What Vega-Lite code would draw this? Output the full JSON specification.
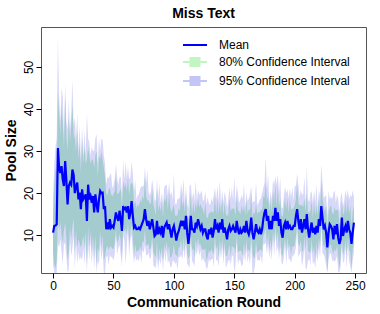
{
  "$schema": "https://vega.github.io/schema/vega-lite/v6.json",
  "width": 325,
  "height": 246,
  "autosize": "none",
  "padding": {"left": 41, "top": 27, "right": 14, "bottom": 41},
  "title": {"text": "Miss Text", "font": "Liberation Sans", "fontSize": 14, "fontWeight": "bold", "color": "black", "offset": 6},
  "config": {
    "font": "Liberation Sans",
    "view": {"stroke": "#555555", "strokeWidth": 1},
    "axis": {"grid": false, "domain": false, "tickColor": "black", "tickSize": 5, "labelColor": "black", "labelFontSize": 12, "labelFont": "Liberation Sans", "titleFont": "Liberation Sans", "titleFontSize": 14, "titleFontWeight": "bold", "titleColor": "black"}
  },
  "data": {"values": [
    {"round":0,"mean":10.6,"lo95":3,"lo80":6,"hi80":15,"hi95":19},
    {"round":1,"mean":12.2,"lo95":1,"lo80":3,"hi80":22,"hi95":27},
    {"round":2,"mean":12.3,"lo95":1,"lo80":2,"hi80":26,"hi95":31},
    {"round":3,"mean":12.6,"lo95":1,"lo80":4,"hi80":24,"hi95":33},
    {"round":4,"mean":30.7,"lo95":8,"lo80":14,"hi80":44,"hi95":57},
    {"round":5,"mean":26,"lo95":7,"lo80":11,"hi80":39,"hi95":43},
    {"round":6,"mean":24.8,"lo95":9,"lo80":13,"hi80":34,"hi95":37},
    {"round":7,"mean":26.4,"lo95":6,"lo80":10,"hi80":41,"hi95":45},
    {"round":8,"mean":23.2,"lo95":3,"lo80":8,"hi80":37,"hi95":43},
    {"round":9,"mean":21.7,"lo95":8,"lo80":11,"hi80":31,"hi95":34},
    {"round":10,"mean":27.6,"lo95":8,"lo80":13,"hi80":43,"hi95":46},
    {"round":11,"mean":23,"lo95":5,"lo80":9,"hi80":34,"hi95":37},
    {"round":12,"mean":17.3,"lo95":1,"lo80":4,"hi80":30,"hi95":35},
    {"round":13,"mean":21.7,"lo95":2,"lo80":6,"hi80":38,"hi95":42},
    {"round":14,"mean":22.5,"lo95":9,"lo80":12,"hi80":32,"hi95":35},
    {"round":15,"mean":22,"lo95":5,"lo80":9,"hi80":36,"hi95":39},
    {"round":16,"mean":25.6,"lo95":7,"lo80":12,"hi80":41,"hi95":47},
    {"round":17,"mean":24.4,"lo95":10,"lo80":14,"hi80":34,"hi95":36},
    {"round":18,"mean":20,"lo95":2,"lo80":6,"hi80":33,"hi95":38},
    {"round":19,"mean":21.6,"lo95":8,"lo80":11,"hi80":30,"hi95":33},
    {"round":20,"mean":22.5,"lo95":3,"lo80":7,"hi80":35,"hi95":39},
    {"round":21,"mean":18.5,"lo95":6,"lo80":9,"hi80":28,"hi95":30},
    {"round":22,"mean":20.1,"lo95":4,"lo80":8,"hi80":32,"hi95":36},
    {"round":23,"mean":16.2,"lo95":5,"lo80":7,"hi80":25,"hi95":28},
    {"round":24,"mean":20.9,"lo95":4,"lo80":8,"hi80":33,"hi95":36},
    {"round":25,"mean":18.5,"lo95":7,"lo80":10,"hi80":27,"hi95":29},
    {"round":26,"mean":19,"lo95":3,"lo80":7,"hi80":31,"hi95":35},
    {"round":27,"mean":19.7,"lo95":8,"lo80":11,"hi80":27,"hi95":29},
    {"round":28,"mean":13.4,"lo95":1,"lo80":3,"hi80":28,"hi95":39},
    {"round":29,"mean":22,"lo95":8,"lo80":12,"hi80":31,"hi95":33},
    {"round":30,"mean":18.5,"lo95":4,"lo80":7,"hi80":29,"hi95":32},
    {"round":31,"mean":19.3,"lo95":9,"lo80":11,"hi80":27,"hi95":29},
    {"round":32,"mean":17.7,"lo95":3,"lo80":6,"hi80":28,"hi95":31},
    {"round":33,"mean":19.3,"lo95":7,"lo80":10,"hi80":28,"hi95":30},
    {"round":34,"mean":15.4,"lo95":2,"lo80":5,"hi80":26,"hi95":30},
    {"round":35,"mean":19.7,"lo95":7,"lo80":10,"hi80":29,"hi95":33},
    {"round":36,"mean":17.3,"lo95":1,"lo80":3,"hi80":30,"hi95":34},
    {"round":37,"mean":15.4,"lo95":4,"lo80":7,"hi80":24,"hi95":27},
    {"round":38,"mean":18.5,"lo95":3,"lo80":6,"hi80":29,"hi95":33},
    {"round":39,"mean":20.5,"lo95":8,"lo80":11,"hi80":28,"hi95":30},
    {"round":40,"mean":20,"lo95":4,"lo80":7,"hi80":30,"hi95":33},
    {"round":41,"mean":20.1,"lo95":7,"lo80":10,"hi80":28,"hi95":32.6},
    {"round":42,"mean":16.2,"lo95":1,"lo80":4,"hi80":26,"hi95":29},
    {"round":43,"mean":16.9,"lo95":1,"lo80":5,"hi80":24,"hi95":27},
    {"round":44,"mean":11.4,"lo95":4.9,"lo80":6.9,"hi80":19.9,"hi95":22},
    {"round":45,"mean":13,"lo95":5,"lo80":7.5,"hi80":19.5,"hi95":24},
    {"round":46,"mean":11.4,"lo95":2.9,"lo80":6.4,"hi80":20.9,"hi95":23.4},
    {"round":47,"mean":13.8,"lo95":5.3,"lo80":7.3,"hi80":21.3,"hi95":24.3},
    {"round":48,"mean":11.8,"lo95":4.8,"lo80":7.3,"hi80":19.8,"hi95":24.8},
    {"round":49,"mean":12.2,"lo95":4.7,"lo80":6.7,"hi80":19.2,"hi95":21.2},
    {"round":50,"mean":11.8,"lo95":4,"lo80":6.8,"hi80":19.8,"hi95":21.8},
    {"round":51,"mean":13.4,"lo95":5.4,"lo80":7.9,"hi80":20.4,"hi95":23.4},
    {"round":52,"mean":15.4,"lo95":9.9,"lo80":11.4,"hi80":24.4,"hi95":26.9},
    {"round":53,"mean":14.2,"lo95":5.2,"lo80":8.2,"hi80":19.7,"hi95":23.7},
    {"round":54,"mean":13.4,"lo95":6.9,"lo80":8.9,"hi80":19.9,"hi95":21.9},
    {"round":55,"mean":15.8,"lo95":7.8,"lo80":10.3,"hi80":20.3,"hi95":23.8},
    {"round":56,"mean":13.8,"lo95":5.3,"lo80":8.8,"hi80":21.3,"hi95":23.8},
    {"round":57,"mean":11,"lo95":2.5,"lo80":4.5,"hi80":16.5,"hi95":19.5},
    {"round":58,"mean":16.9,"lo95":9.9,"lo80":12.4,"hi80":22.9,"hi95":27.9},
    {"round":59,"mean":16.2,"lo95":8.7,"lo80":10.7,"hi80":21.2,"hi95":23.2},
    {"round":60,"mean":16.5,"lo95":3,"lo80":11.5,"hi80":22.5,"hi95":27.6},
    {"round":61,"mean":15.4,"lo95":7.4,"lo80":9.9,"hi80":20.4,"hi95":23.4},
    {"round":62,"mean":16.9,"lo95":11.4,"lo80":12.9,"hi80":23.9,"hi95":26.4},
    {"round":63,"mean":13.8,"lo95":4.8,"lo80":7.8,"hi80":19.3,"hi95":23.3},
    {"round":64,"mean":15.4,"lo95":8.9,"lo80":10.9,"hi80":21.9,"hi95":23.9},
    {"round":65,"mean":18.1,"lo95":10.1,"lo80":12.6,"hi80":22.6,"hi95":27.6},
    {"round":66,"mean":14.6,"lo95":6.1,"lo80":9.6,"hi80":22.1,"hi95":24.6},
    {"round":67,"mean":11.8,"lo95":3.3,"lo80":5.3,"hi80":17.3,"hi95":20.3},
    {"round":68,"mean":12.2,"lo95":5.2,"lo80":7.7,"hi80":18.2,"hi95":23.2},
    {"round":69,"mean":11.4,"lo95":3.9,"lo80":5.9,"hi80":16.4,"hi95":18.4},
    {"round":70,"mean":11.4,"lo95":4.4,"lo80":6.4,"hi80":17.4,"hi95":19.4},
    {"round":71,"mean":11.8,"lo95":3.8,"lo80":6.3,"hi80":16.8,"hi95":19.8},
    {"round":72,"mean":11.4,"lo95":5.9,"lo80":7.4,"hi80":18.4,"hi95":20.9},
    {"round":73,"mean":12.2,"lo95":3.2,"lo80":6.2,"hi80":17.7,"hi95":21.7},
    {"round":74,"mean":13,"lo95":6.5,"lo80":8.5,"hi80":19.5,"hi95":21.5},
    {"round":75,"mean":13.8,"lo95":5.8,"lo80":8.3,"hi80":18.3,"hi95":21.8},
    {"round":76,"mean":16.2,"lo95":7.7,"lo80":11.2,"hi80":23.7,"hi95":26.2},
    {"round":77,"mean":13.8,"lo95":5.3,"lo80":7.3,"hi80":19.3,"hi95":22.3},
    {"round":78,"mean":12.2,"lo95":5.2,"lo80":7.7,"hi80":18.2,"hi95":25.6},
    {"round":79,"mean":13.4,"lo95":5.9,"lo80":7.9,"hi80":18.4,"hi95":20.4},
    {"round":80,"mean":11.4,"lo95":4.4,"lo80":6.4,"hi80":17.4,"hi95":19.4},
    {"round":81,"mean":12.6,"lo95":4.6,"lo80":7.1,"hi80":17.6,"hi95":20.6},
    {"round":82,"mean":13.8,"lo95":8.3,"lo80":9.8,"hi80":20.8,"hi95":23.3},
    {"round":83,"mean":11.8,"lo95":2.8,"lo80":5.8,"hi80":17.3,"hi95":21.3},
    {"round":84,"mean":9.8,"lo95":2.5,"lo80":5.3,"hi80":16.3,"hi95":18.3},
    {"round":85,"mean":10.2,"lo95":2.2,"lo80":4.7,"hi80":14.7,"hi95":18.2},
    {"round":86,"mean":13.4,"lo95":4.9,"lo80":8.4,"hi80":20.9,"hi95":23.4},
    {"round":87,"mean":10.2,"lo95":1.7,"lo80":3.7,"hi80":15.7,"hi95":18.7},
    {"round":88,"mean":11.4,"lo95":4.4,"lo80":6.9,"hi80":17.4,"hi95":22.4},
    {"round":89,"mean":10.6,"lo95":3.1,"lo80":5.1,"hi80":15.6,"hi95":17.6},
    {"round":90,"mean":12.2,"lo95":5.2,"lo80":7.2,"hi80":18.2,"hi95":20.2},
    {"round":91,"mean":9.4,"lo95":1.4,"lo80":3.9,"hi80":14.4,"hi95":17.4},
    {"round":92,"mean":11.8,"lo95":6.3,"lo80":7.8,"hi80":18.8,"hi95":21.3},
    {"round":93,"mean":12.4,"lo95":3.4,"lo80":6.4,"hi80":17.9,"hi95":21.9},
    {"round":94,"mean":13,"lo95":6.5,"lo80":8.5,"hi80":19.5,"hi95":22},
    {"round":95,"mean":11.4,"lo95":3.4,"lo80":5.9,"hi80":15.9,"hi95":19.4},
    {"round":96,"mean":12.6,"lo95":4.1,"lo80":7.6,"hi80":20.1,"hi95":22.6},
    {"round":97,"mean":11,"lo95":2.5,"lo80":4.5,"hi80":16.5,"hi95":19.5},
    {"round":98,"mean":9.4,"lo95":2.4,"lo80":4.9,"hi80":15.4,"hi95":20.4},
    {"round":99,"mean":11.4,"lo95":3.9,"lo80":5.9,"hi80":16.4,"hi95":18.4},
    {"round":100,"mean":12.2,"lo95":4,"lo80":7.7,"hi80":17.2,"hi95":24.8},
    {"round":101,"mean":10.6,"lo95":3.1,"lo80":5.6,"hi80":14.6,"hi95":17.6},
    {"round":102,"mean":8.7,"lo95":3.7,"lo80":5.2,"hi80":14.7,"hi95":17.2},
    {"round":103,"mean":10.2,"lo95":1.7,"lo80":4.7,"hi80":14.7,"hi95":18.7},
    {"round":104,"mean":11,"lo95":5,"lo80":7,"hi80":16.5,"hi95":18.5},
    {"round":105,"mean":12.2,"lo95":4.7,"lo80":7.2,"hi80":15.7,"hi95":19.2},
    {"round":106,"mean":13.4,"lo95":5.4,"lo80":8.9,"hi80":19.9,"hi95":22.4},
    {"round":107,"mean":12.2,"lo95":4.2,"lo80":6.2,"hi80":16.7,"hi95":19.7},
    {"round":108,"mean":13.4,"lo95":6.9,"lo80":9.4,"hi80":18.4,"hi95":23.4},
    {"round":109,"mean":11.4,"lo95":4.4,"lo80":6.4,"hi80":15.4,"hi95":17.4},
    {"round":110,"mean":14.6,"lo95":8.1,"lo80":10.1,"hi80":19.6,"hi95":21.6},
    {"round":111,"mean":10.6,"lo95":3.1,"lo80":5.6,"hi80":14.6,"hi95":17.6},
    {"round":112,"mean":7.9,"lo95":2.9,"lo80":4.4,"hi80":13.9,"hi95":16.4},
    {"round":113,"mean":10.6,"lo95":2.1,"lo80":5.1,"hi80":15.1,"hi95":21.7},
    {"round":114,"mean":14.6,"lo95":8.6,"lo80":10.6,"hi80":20.1,"hi95":22.1},
    {"round":115,"mean":11.4,"lo95":3.9,"lo80":6.4,"hi80":14.9,"hi95":18.4},
    {"round":116,"mean":11.4,"lo95":3.4,"lo80":6.9,"hi80":17.9,"hi95":20.4},
    {"round":117,"mean":10.6,"lo95":2.6,"lo80":4.6,"hi80":15.1,"hi95":18.1},
    {"round":118,"mean":13,"lo95":6.5,"lo80":9,"hi80":18,"hi95":23},
    {"round":119,"mean":12.2,"lo95":5.2,"lo80":7.2,"hi80":16.2,"hi95":18.2},
    {"round":120,"mean":13.8,"lo95":7.3,"lo80":9.3,"hi80":18.8,"hi95":20.8},
    {"round":121,"mean":12.6,"lo95":5.1,"lo80":7.6,"hi80":16.6,"hi95":19.6},
    {"round":122,"mean":11.4,"lo95":6.4,"lo80":7.9,"hi80":17.4,"hi95":19.9},
    {"round":123,"mean":12.2,"lo95":3.7,"lo80":6.7,"hi80":16.7,"hi95":20.7},
    {"round":124,"mean":10.6,"lo95":4.6,"lo80":6.6,"hi80":16.1,"hi95":18.1},
    {"round":125,"mean":11.4,"lo95":3.9,"lo80":6.4,"hi80":14.9,"hi95":18.4},
    {"round":126,"mean":11.4,"lo95":3.4,"lo80":6.9,"hi80":17.9,"hi95":20.4},
    {"round":127,"mean":9.8,"lo95":1.8,"lo80":3.8,"hi80":14.3,"hi95":17.3},
    {"round":128,"mean":9,"lo95":2.5,"lo80":5,"hi80":14,"hi95":19},
    {"round":129,"mean":11.4,"lo95":4.4,"lo80":6.4,"hi80":15.4,"hi95":17.4},
    {"round":130,"mean":10.2,"lo95":3.7,"lo80":5.7,"hi80":15.2,"hi95":17.2},
    {"round":131,"mean":11.8,"lo95":4.3,"lo80":6.8,"hi80":15.8,"hi95":18.8},
    {"round":132,"mean":9.4,"lo95":4.4,"lo80":5.9,"hi80":15.4,"hi95":17.9},
    {"round":133,"mean":11,"lo95":2.5,"lo80":5.5,"hi80":15.5,"hi95":19.5},
    {"round":134,"mean":13.8,"lo95":7.8,"lo80":9.8,"hi80":19.3,"hi95":21.3},
    {"round":135,"mean":11.4,"lo95":3.9,"lo80":6.4,"hi80":14.9,"hi95":18.4},
    {"round":136,"mean":12.2,"lo95":4.2,"lo80":7.7,"hi80":18.7,"hi95":21.7},
    {"round":137,"mean":10.6,"lo95":2.6,"lo80":4.6,"hi80":15.1,"hi95":18.1},
    {"round":138,"mean":13,"lo95":6.5,"lo80":9,"hi80":18,"hi95":23},
    {"round":139,"mean":11.4,"lo95":4.4,"lo80":6.4,"hi80":15.4,"hi95":17.4},
    {"round":140,"mean":13.8,"lo95":7.3,"lo80":9.3,"hi80":18.8,"hi95":20.8},
    {"round":141,"mean":10.6,"lo95":3.1,"lo80":5.6,"hi80":14.6,"hi95":17.6},
    {"round":142,"mean":11.8,"lo95":6.8,"lo80":8.3,"hi80":17.8,"hi95":20.3},
    {"round":143,"mean":10.6,"lo95":2.1,"lo80":5.1,"hi80":15.1,"hi95":19.1},
    {"round":144,"mean":9,"lo95":3,"lo80":5,"hi80":14.5,"hi95":16.5},
    {"round":145,"mean":11.4,"lo95":3.9,"lo80":6.4,"hi80":14.9,"hi95":18.4},
    {"round":146,"mean":12.2,"lo95":4.2,"lo80":7.7,"hi80":18.7,"hi95":21.2},
    {"round":147,"mean":11,"lo95":3,"lo80":5,"hi80":15.5,"hi95":18.5},
    {"round":148,"mean":11.4,"lo95":4.9,"lo80":7.4,"hi80":16.4,"hi95":21.4},
    {"round":149,"mean":12.2,"lo95":5.2,"lo80":7.2,"hi80":16.2,"hi95":18.2},
    {"round":150,"mean":11.4,"lo95":1,"lo80":6.9,"hi80":16.4,"hi95":24},
    {"round":151,"mean":10.6,"lo95":3.1,"lo80":5.6,"hi80":14.6,"hi95":17.6},
    {"round":152,"mean":13.4,"lo95":8.4,"lo80":9.9,"hi80":19.4,"hi95":21.9},
    {"round":153,"mean":11.4,"lo95":2.9,"lo80":5.9,"hi80":15.9,"hi95":19.9},
    {"round":154,"mean":10.2,"lo95":4.2,"lo80":6.2,"hi80":15.7,"hi95":17.7},
    {"round":155,"mean":11.4,"lo95":3.9,"lo80":6.4,"hi80":14.9,"hi95":18.4},
    {"round":156,"mean":10.6,"lo95":2.6,"lo80":6.1,"hi80":17.1,"hi95":19.6},
    {"round":157,"mean":11,"lo95":3,"lo80":5,"hi80":15.5,"hi95":18.5},
    {"round":158,"mean":12.2,"lo95":5.7,"lo80":8.2,"hi80":17.2,"hi95":22.2},
    {"round":159,"mean":10.6,"lo95":3.6,"lo80":5.6,"hi80":14.6,"hi95":16.6},
    {"round":160,"mean":13.4,"lo95":6.9,"lo80":8.9,"hi80":18.4,"hi95":20.4},
    {"round":161,"mean":11,"lo95":3.5,"lo80":6,"hi80":15,"hi95":18},
    {"round":162,"mean":10.2,"lo95":5.2,"lo80":6.7,"hi80":16.2,"hi95":18.7},
    {"round":163,"mean":11.4,"lo95":2.9,"lo80":5.9,"hi80":15.9,"hi95":19.9},
    {"round":164,"mean":14.2,"lo95":8.2,"lo80":10.2,"hi80":19.7,"hi95":21.7},
    {"round":165,"mean":10.6,"lo95":1,"lo80":5.6,"hi80":14.1,"hi95":17.6},
    {"round":166,"mean":9,"lo95":1,"lo80":4.5,"hi80":15.5,"hi95":18},
    {"round":167,"mean":10.6,"lo95":2.6,"lo80":4.6,"hi80":15.1,"hi95":18.1},
    {"round":168,"mean":12.6,"lo95":6.1,"lo80":8.6,"hi80":17.6,"hi95":22.6},
    {"round":169,"mean":11,"lo95":4,"lo80":6,"hi80":15,"hi95":17},
    {"round":170,"mean":10.6,"lo95":4.1,"lo80":6.1,"hi80":15.6,"hi95":17.6},
    {"round":171,"mean":11.4,"lo95":3.9,"lo80":6.4,"hi80":15.4,"hi95":18.4},
    {"round":172,"mean":10.2,"lo95":5.2,"lo80":6.7,"hi80":16.2,"hi95":18.7},
    {"round":173,"mean":11.4,"lo95":2.9,"lo80":5.9,"hi80":15.9,"hi95":19.9},
    {"round":174,"mean":13.8,"lo95":7.8,"lo80":9.8,"hi80":19.3,"hi95":21.3},
    {"round":175,"mean":15.4,"lo95":7.9,"lo80":10.4,"hi80":18.9,"hi95":22.4},
    {"round":176,"mean":16.2,"lo95":8.2,"lo80":11.7,"hi80":22.7,"hi95":28.5},
    {"round":177,"mean":13.4,"lo95":5.4,"lo80":7.4,"hi80":17.9,"hi95":20.9},
    {"round":178,"mean":14.6,"lo95":8.1,"lo80":10.6,"hi80":19.6,"hi95":24.6},
    {"round":179,"mean":11.4,"lo95":4.4,"lo80":6.4,"hi80":15.4,"hi95":17.4},
    {"round":180,"mean":13.4,"lo95":6.9,"lo80":8.9,"hi80":18.4,"hi95":20.4},
    {"round":181,"mean":11.4,"lo95":3.9,"lo80":6.4,"hi80":15.4,"hi95":18.4},
    {"round":182,"mean":14.6,"lo95":9.6,"lo80":11.1,"hi80":20.6,"hi95":23.1},
    {"round":183,"mean":13.4,"lo95":4.9,"lo80":7.9,"hi80":17.9,"hi95":21.9},
    {"round":184,"mean":16.5,"lo95":10.5,"lo80":12.5,"hi80":22,"hi95":24},
    {"round":185,"mean":13.4,"lo95":5.9,"lo80":8.4,"hi80":16.9,"hi95":22},
    {"round":186,"mean":15.4,"lo95":7.4,"lo80":10.9,"hi80":21.9,"hi95":24.4},
    {"round":187,"mean":12.2,"lo95":4.2,"lo80":6.2,"hi80":16.7,"hi95":19.7},
    {"round":188,"mean":13.8,"lo95":7.3,"lo80":9.8,"hi80":18.8,"hi95":23.8},
    {"round":189,"mean":10.6,"lo95":3.6,"lo80":5.6,"hi80":14.6,"hi95":16.6},
    {"round":190,"mean":9.4,"lo95":2.9,"lo80":4.9,"hi80":14.4,"hi95":16.4},
    {"round":191,"mean":12.2,"lo95":4.7,"lo80":7.2,"hi80":16.2,"hi95":19.2},
    {"round":192,"mean":13,"lo95":8,"lo80":9.5,"hi80":19,"hi95":21.5},
    {"round":193,"mean":11.4,"lo95":2.9,"lo80":5.9,"hi80":15.9,"hi95":19.9},
    {"round":194,"mean":13.4,"lo95":7.4,"lo80":9.4,"hi80":18.9,"hi95":20.9},
    {"round":195,"mean":11.8,"lo95":4.3,"lo80":6.8,"hi80":15.3,"hi95":18.8},
    {"round":196,"mean":12.2,"lo95":4.2,"lo80":7.7,"hi80":18.7,"hi95":21.2},
    {"round":197,"mean":11.4,"lo95":3.4,"lo80":5.4,"hi80":15.9,"hi95":18.9},
    {"round":198,"mean":11.4,"lo95":4.9,"lo80":7.4,"hi80":16.4,"hi95":21.4},
    {"round":199,"mean":12.2,"lo95":5.2,"lo80":7.2,"hi80":16.2,"hi95":18.2},
    {"round":200,"mean":12.2,"lo95":5.7,"lo80":7.7,"hi80":17.2,"hi95":21.7},
    {"round":201,"mean":14.6,"lo95":7.1,"lo80":9.6,"hi80":18.6,"hi95":21.6},
    {"round":202,"mean":16.2,"lo95":11.2,"lo80":12.7,"hi80":22.2,"hi95":24.7},
    {"round":203,"mean":13.4,"lo95":4.9,"lo80":7.9,"hi80":17.9,"hi95":21.9},
    {"round":204,"mean":11.4,"lo95":5.4,"lo80":7.4,"hi80":16.9,"hi95":18.9},
    {"round":205,"mean":13.8,"lo95":6.3,"lo80":8.8,"hi80":17.3,"hi95":20.8},
    {"round":206,"mean":10.6,"lo95":2.6,"lo80":6.1,"hi80":17.1,"hi95":19.6},
    {"round":207,"mean":12.2,"lo95":4.2,"lo80":6.2,"hi80":16.7,"hi95":19.7},
    {"round":208,"mean":13.8,"lo95":7.3,"lo80":9.8,"hi80":18.8,"hi95":23.8},
    {"round":209,"mean":11.4,"lo95":2,"lo80":6.4,"hi80":15.4,"hi95":17.4},
    {"round":210,"mean":15,"lo95":2,"lo80":10.5,"hi80":20,"hi95":26.4},
    {"round":211,"mean":11.4,"lo95":3.9,"lo80":6.4,"hi80":15.4,"hi95":18.4},
    {"round":212,"mean":9.4,"lo95":4.4,"lo80":5.9,"hi80":15.4,"hi95":17.9},
    {"round":213,"mean":11.4,"lo95":2.9,"lo80":5.9,"hi80":15.9,"hi95":19.9},
    {"round":214,"mean":13,"lo95":7,"lo80":9,"hi80":18.5,"hi95":20.5},
    {"round":215,"mean":10.6,"lo95":3.1,"lo80":5.6,"hi80":14.1,"hi95":17.6},
    {"round":216,"mean":11.8,"lo95":3.8,"lo80":7.3,"hi80":18.3,"hi95":20.8},
    {"round":217,"mean":10.2,"lo95":2.2,"lo80":4.2,"hi80":14.7,"hi95":17.7},
    {"round":218,"mean":12.2,"lo95":5.7,"lo80":8.2,"hi80":17.2,"hi95":22.2},
    {"round":219,"mean":10.6,"lo95":3.6,"lo80":5.6,"hi80":14.6,"hi95":16.6},
    {"round":220,"mean":13.8,"lo95":7.3,"lo80":9.3,"hi80":18.8,"hi95":20.8},
    {"round":221,"mean":12.2,"lo95":4.7,"lo80":7.2,"hi80":16.2,"hi95":19.2},
    {"round":222,"mean":16.9,"lo95":11.9,"lo80":13.4,"hi80":22.9,"hi95":26.8},
    {"round":223,"mean":14.2,"lo95":5.7,"lo80":8.7,"hi80":18.7,"hi95":22.7},
    {"round":224,"mean":11.4,"lo95":5.4,"lo80":7.4,"hi80":16.9,"hi95":18.9},
    {"round":225,"mean":12.2,"lo95":4.7,"lo80":7.2,"hi80":15.7,"hi95":19.2},
    {"round":226,"mean":10.6,"lo95":2.6,"lo80":6.1,"hi80":17.1,"hi95":19.6},
    {"round":227,"mean":7.1,"lo95":1,"lo80":1.1,"hi80":11.6,"hi95":14.6},
    {"round":228,"mean":10.6,"lo95":4.1,"lo80":6.6,"hi80":15.6,"hi95":20.6},
    {"round":229,"mean":12.6,"lo95":5.6,"lo80":7.6,"hi80":16.6,"hi95":18.6},
    {"round":230,"mean":12.2,"lo95":5.7,"lo80":7.7,"hi80":17.2,"hi95":19.2},
    {"round":231,"mean":11.4,"lo95":3.9,"lo80":6.4,"hi80":15.4,"hi95":18.4},
    {"round":232,"mean":9,"lo95":4,"lo80":5.5,"hi80":15,"hi95":20},
    {"round":233,"mean":12.2,"lo95":3.7,"lo80":6.7,"hi80":16.7,"hi95":20.7},
    {"round":234,"mean":10.2,"lo95":4.2,"lo80":6.2,"hi80":15.7,"hi95":17.7},
    {"round":235,"mean":12.6,"lo95":5.1,"lo80":7.6,"hi80":16.1,"hi95":19.6},
    {"round":236,"mean":9.4,"lo95":1.4,"lo80":4.9,"hi80":15.9,"hi95":18.4},
    {"round":237,"mean":7.9,"lo95":1,"lo80":1.9,"hi80":12.4,"hi95":15.4},
    {"round":238,"mean":9,"lo95":2.5,"lo80":5,"hi80":14,"hi95":19},
    {"round":239,"mean":14.2,"lo95":7.2,"lo80":9.2,"hi80":18.2,"hi95":20.2},
    {"round":240,"mean":9.8,"lo95":3.3,"lo80":5.3,"hi80":14.8,"hi95":16.8},
    {"round":241,"mean":11.4,"lo95":3.9,"lo80":6.4,"hi80":15.4,"hi95":18.4},
    {"round":242,"mean":12.2,"lo95":7.2,"lo80":8.7,"hi80":18.2,"hi95":20.7},
    {"round":243,"mean":10.6,"lo95":2.1,"lo80":5.1,"hi80":15.1,"hi95":19.1},
    {"round":244,"mean":13.4,"lo95":7.4,"lo80":9.4,"hi80":18.9,"hi95":20.9},
    {"round":245,"mean":11.4,"lo95":3.9,"lo80":6.4,"hi80":14.9,"hi95":18.4},
    {"round":246,"mean":10.6,"lo95":2.6,"lo80":6.1,"hi80":17.1,"hi95":19.6},
    {"round":247,"mean":7.9,"lo95":1,"lo80":1.9,"hi80":12.4,"hi95":19},
    {"round":248,"mean":10.6,"lo95":4.1,"lo80":6.6,"hi80":15.6,"hi95":20.6},
    {"round":249,"mean":13,"lo95":6,"lo80":8,"hi80":17,"hi95":19}
  ]},
  "layer": [
    {
      "mark": {"type": "area", "color": "#d8d8f8", "opacity": 1, "clip": true},
      "encoding": {
        "x": {"field": "round", "type": "quantitative", "scale": {"domain": [-10, 259], "nice": false, "zero": false},
              "axis": {"title": "Communication Round", "values": [0, 50, 100, 150, 200, 250], "labelPadding": 2, "titlePadding": 4, "labelFlush": false}},
        "y": {"field": "lo95", "type": "quantitative", "scale": {"domain": [1, 59.5], "nice": false, "zero": false},
              "axis": {"title": "Pool Size", "values": [10, 20, 30, 40, 50], "labelAngle": -90, "labelAlign": "center", "labelBaseline": "alphabetic", "labelPadding": 4, "titlePadding": 4}},
        "y2": {"field": "hi95"}
      }
    },
    {
      "mark": {"type": "area", "color": "#a4cccf", "opacity": 1, "clip": true},
      "encoding": {
        "x": {"field": "round", "type": "quantitative"},
        "y": {"field": "lo80", "type": "quantitative"},
        "y2": {"field": "hi80"}
      }
    },
    {
      "mark": {"type": "line", "strokeWidth": 2.2, "clip": true},
      "encoding": {
        "x": {"field": "round", "type": "quantitative"},
        "y": {"field": "mean", "type": "quantitative"},
        "color": {
          "datum": "Mean", "type": "nominal",
          "scale": {"domain": ["Mean", "80% Confidence Interval", "95% Confidence Interval"], "range": ["#0000ff", "#c2f5c2", "#c4c4f7"]},
          "legend": {
            "orient": "none", "legendX": 147, "legendY": 11, "title": null, "padding": 0,
            "symbolType": "M-2,0H2", "symbolSize": 144, "symbolStrokeWidth": 2,
            "labelFont": "Liberation Sans", "labelFontSize": 12, "labelColor": "black", "labelOffset": 17, "rowPadding": 3,
            "encode": {
              "symbols": {"update": {
                "shape": {"signal": "datum.value == 'Mean' ? 'M-2,0H2' : 'M-2,0H2M-0.75,-0.65H0.75V0.65H-0.75Z'"},
                "fill": {"signal": "datum.value == 'Mean' ? 'transparent' : (datum.value == '80% Confidence Interval' ? '#c2f5c2' : '#c4c4f7')"},
                "stroke": {"signal": "datum.value == 'Mean' ? '#0000ff' : (datum.value == '80% Confidence Interval' ? '#d8f8d8' : '#d6d6fa')"}
              }}
            }
          }
        }
      }
    }
  ]
}
